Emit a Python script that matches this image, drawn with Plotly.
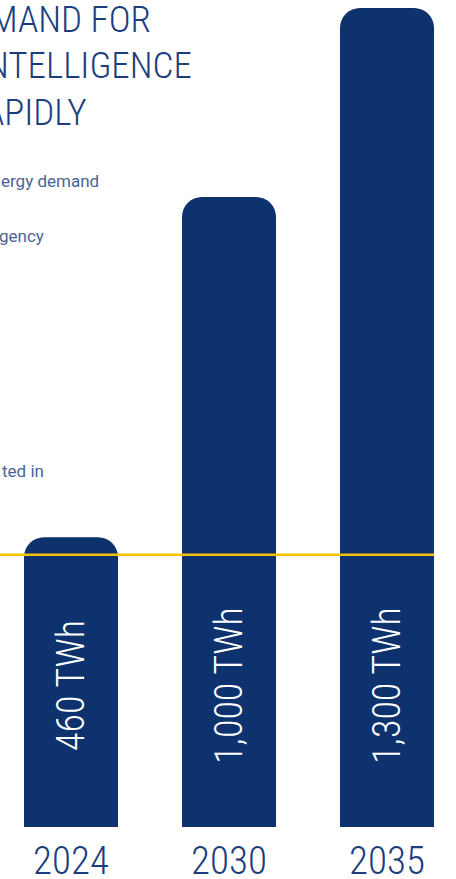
import plotly.graph_objects as go

years = ["2024", "2030", "2035"]
demand_twh = [460, 1000, 1300]
value_labels = ["460 TWh", "1,000 TWh", "1,300 TWh"]
reference_twh = 432

title_lines = ["MAND FOR", "NTELLIGENCE", "APIDLY"]
note_fragments = ["ergy demand", "gency", "ted in"]

BAR = "#0d326e"
TXT = "#1b3d7d"
NOTE = "#4a6497"
GOLD = "#f5c300"
COND = "Roboto Condensed, Liberation Sans Narrow, DejaVu Sans Condensed, Arial Narrow, sans-serif"

W, H, PLOT_H = 456, 879, 827
xpos = list(range(len(years)))

fig = go.Figure()
fig.add_trace(go.Bar(
    x=xpos, y=demand_twh,
    marker=dict(color=BAR, cornerradius=20, line=dict(width=0)),
    hoverinfo="skip",
))

# value labels inside bars (rotated)
for xi, lab in zip(xpos, value_labels):
    fig.add_annotation(
        x=xi, y=224, xref="x", yref="y", text=lab, textangle=-90,
        showarrow=False, font=dict(family=COND, size=38, color="white", weight=300),
    )

# reference line up to right edge of last bar
bar_width = 0.595
fig.add_shape(
    type="line", xref="x", yref="y",
    x0=-0.5, x1=xpos[-1] + bar_width / 2,
    y0=reference_twh, y1=reference_twh,
    line=dict(color=GOLD, width=2.5), layer="above",
)

# clipped title fragments (right-aligned)
title_right = [153, 194, 89]
title_y = [19, 66, 112]
for t, xr, yc in zip(title_lines, title_right, title_y):
    fig.add_annotation(
        x=xr / W, y=1 - yc / PLOT_H, xref="paper", yref="paper",
        xanchor="right", yanchor="middle", text=t, showarrow=False,
        font=dict(family=COND, size=37, color=TXT, weight=300),
    )

note_right = [101, 46, 46]
note_y = [181, 236, 471]
for t, xr, yc in zip(note_fragments, note_right, note_y):
    fig.add_annotation(
        x=xr / W, y=1 - yc / PLOT_H, xref="paper", yref="paper",
        xanchor="right", yanchor="middle", text=t, showarrow=False,
        font=dict(family="Roboto, Noto Sans, sans-serif", size=17, color=NOTE),
    )

fig.update_layout(
    width=W, height=H,
    margin=dict(l=0, r=0, t=0, b=H - PLOT_H),
    paper_bgcolor="white", plot_bgcolor="white",
    bargap=1 - bar_width,
    showlegend=False,
    xaxis=dict(
        range=[-0.4494, 2.4367], showgrid=False, zeroline=False, showline=False,
        tickmode="array", tickvals=xpos, ticktext=years, automargin=False,
        ticks="", tickfont=dict(family=COND, size=39, color=TXT, weight=300),
        ticklabelstandoff=7,
    ),
    yaxis=dict(range=[0, PLOT_H / 0.63], visible=False, automargin=False),
)

fig.write_html("out.html", config={"displayModeBar": False},
               post_script="document.body.style.margin='0';")
